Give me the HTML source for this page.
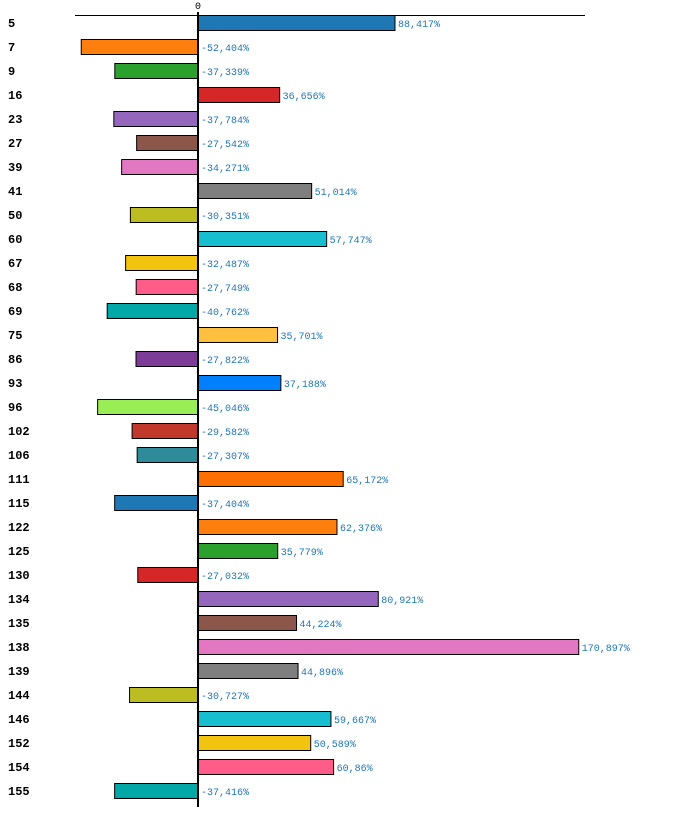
<!DOCTYPE html>
<html><head><meta charset="utf-8"><style>
html,body{margin:0;padding:0;background:#fff;width:700px;height:837px;overflow:hidden}
svg{display:block}
.lbl{font:bold 12px "Liberation Mono",monospace;fill:#000}
.val{font:10px "Liberation Mono",monospace;fill:#1f77b4}
</style></head><body>
<svg id="chart" width="700" height="837"></svg>
<script>
const categories=["5","7","9","16","23","27","39","41","50","60","67","68","69","75","86","93","96","102","106","111","115","122","125","130","134","135","138","139","144","146","152","154","155"];
const values=[88.417,-52.404,-37.339,36.656,-37.784,-27.542,-34.271,51.014,-30.351,57.747,-32.487,-27.749,-40.762,35.701,-27.822,37.188,-45.046,-29.582,-27.307,65.172,-37.404,62.376,35.779,-27.032,80.921,44.224,170.897,44.896,-30.727,59.667,50.589,60.86,-37.416];
const valueLabels=["88,417%","-52,404%","-37,339%","36,656%","-37,784%","-27,542%","-34,271%","51,014%","-30,351%","57,747%","-32,487%","-27,749%","-40,762%","35,701%","-27,822%","37,188%","-45,046%","-29,582%","-27,307%","65,172%","-37,404%","62,376%","35,779%","-27,032%","80,921%","44,224%","170,897%","44,896%","-30,727%","59,667%","50,589%","60,86%","-37,416%"];
const palette=["#1f77b4","#ff7f0e","#2ca02c","#d62728","#9467bd","#8c564b","#e377c2","#7f7f7f","#bcbd22","#17becf","#f1c40f","#ff5c8a","#00a8a8","#ffc040","#7d3c98","#0080ff","#99ee55","#c0392b","#2e8b9a","#ff6f00"];
const NS="http://www.w3.org/2000/svg";
const svg=document.getElementById('chart');
const x0=198,k=2.228;
const X=v=>x0+v*k;
const Y=i=>15+24*i;
function mk(t,a){const e=document.createElementNS(NS,t);for(const n in a)e.setAttribute(n,a[n]);svg.appendChild(e);return e;}
let ax=mk('line',{x1:75,x2:585,y1:15.5,y2:15.5,stroke:'#000','stroke-width':1});


let zt=mk('text',{x:198,y:9,'text-anchor':'middle',class:'val',style:'fill:#000;font-size:10px'});zt.textContent='0';


categories.forEach((c,i)=>{
  const v=values[i];
  const r=mk('rect',{x:Math.min(X(v),x0),y:Y(i)+0.5,width:Math.abs(X(v)-x0),height:15,fill:palette[i%palette.length],stroke:'#000','stroke-width':1});
  
  
  const l=mk('text',{x:8,y:Y(i)+12,class:'lbl'});l.textContent=c;
  
  
  const t=mk('text',{x:(v>0?X(v):x0)+3,y:Y(i)+12,class:'val'});t.textContent=valueLabels[i];
  
  
});
let zl=mk('line',{x1:198,x2:198,y1:12,y2:807,stroke:'#000','stroke-width':2});


</script>
</body></html>
